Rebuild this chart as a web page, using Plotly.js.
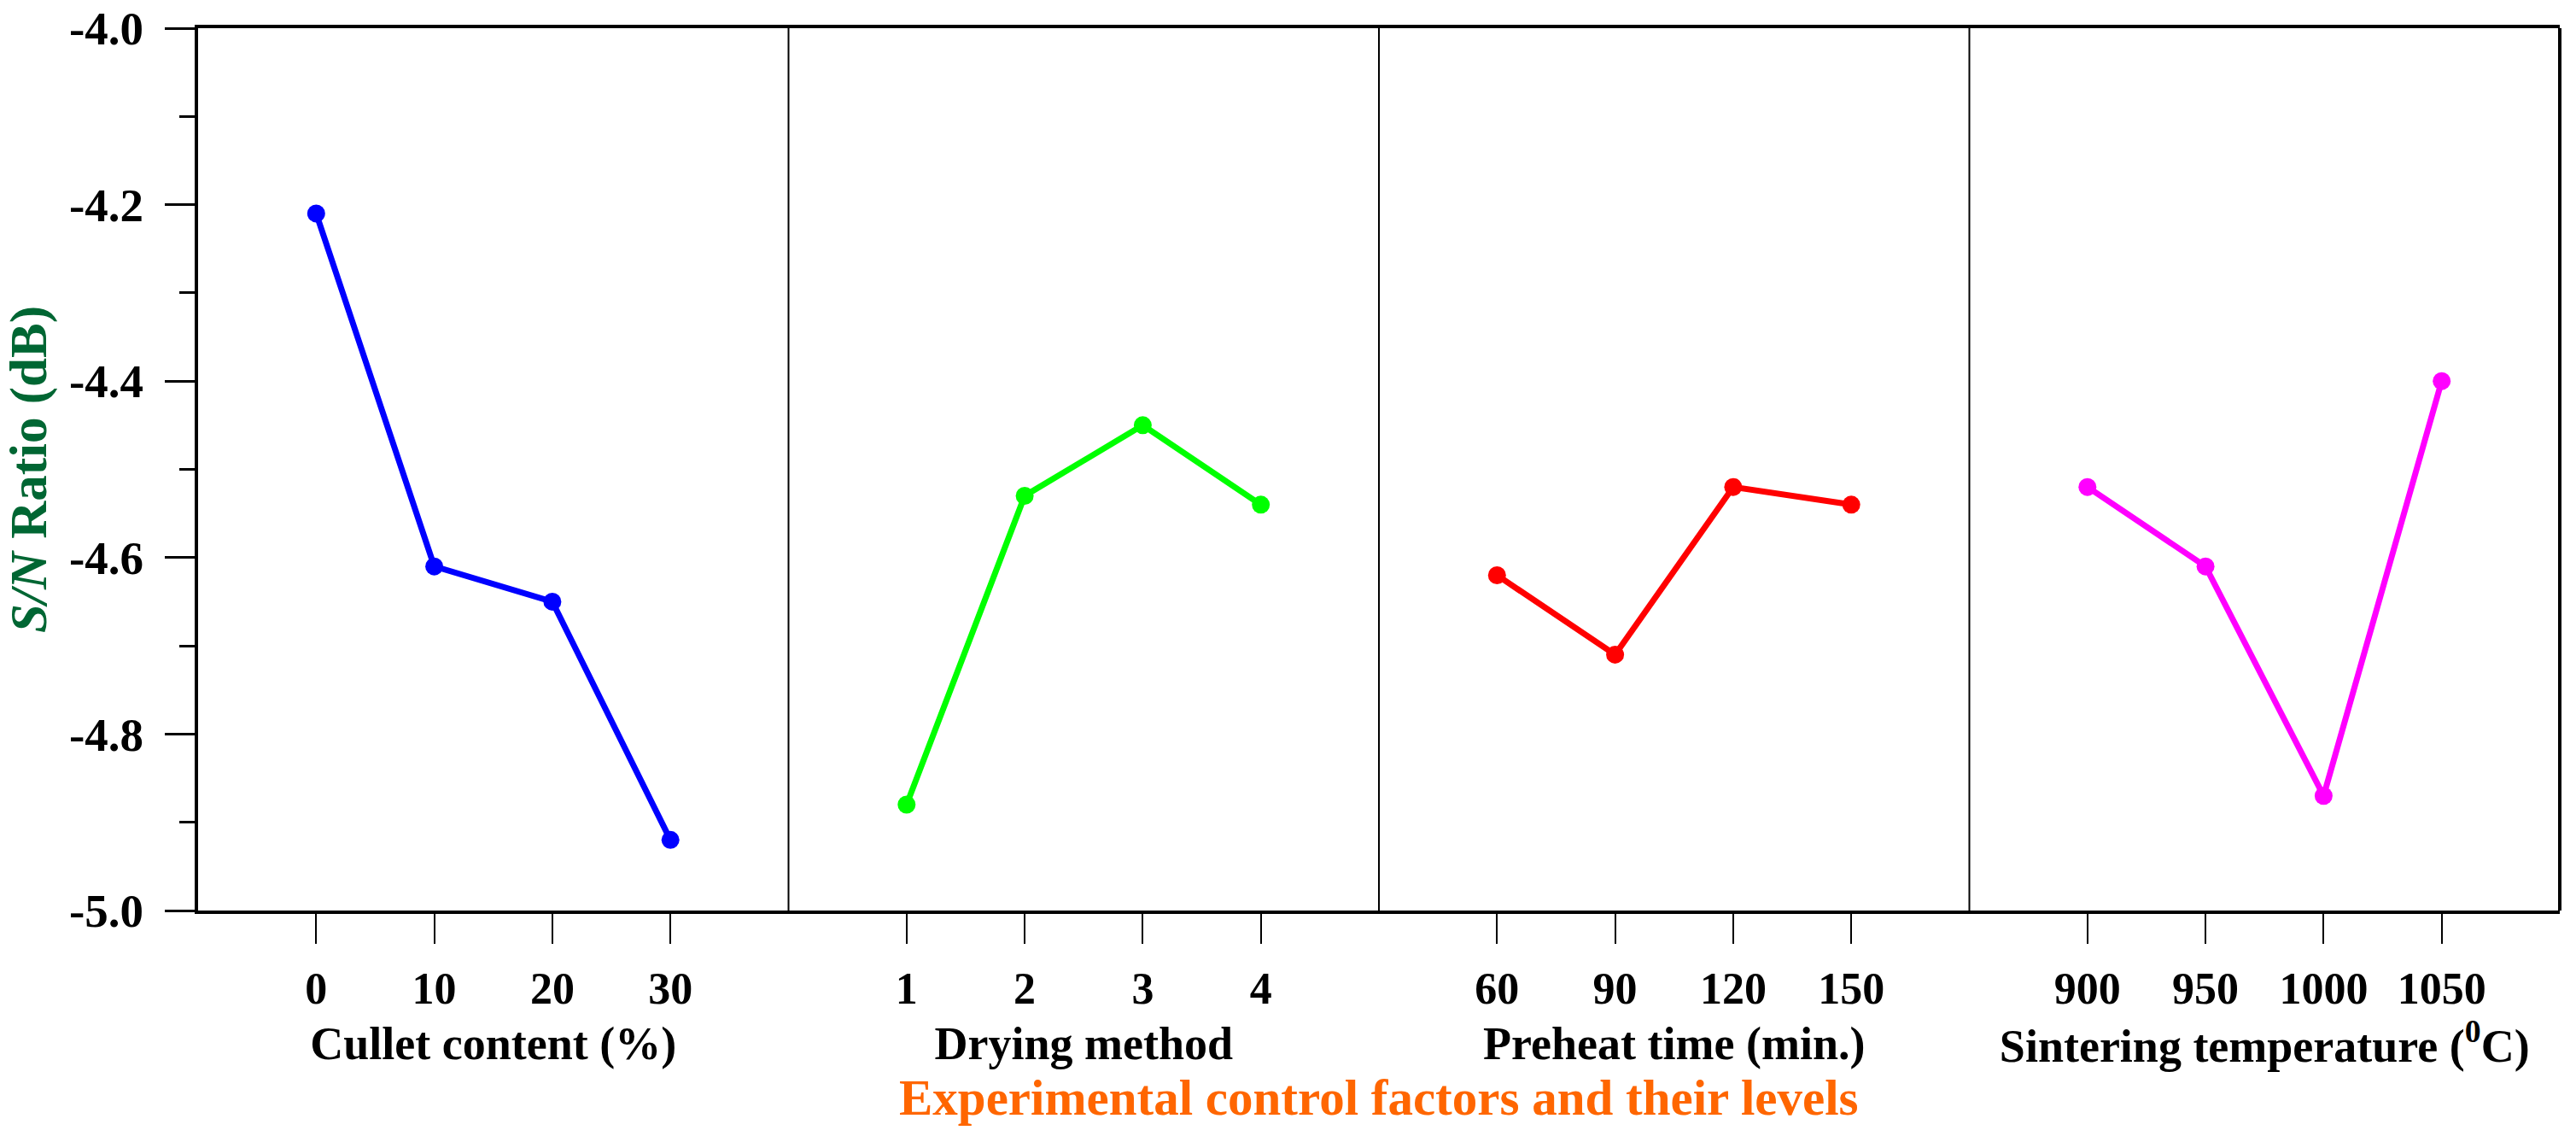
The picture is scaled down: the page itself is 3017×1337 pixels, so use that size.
<!DOCTYPE html>
<html>
<head>
<meta charset="utf-8">
<script src="https://cdn.plot.ly/plotly-3.0.1.min.js"></script>
<style>html,body{margin:0;padding:0;background:#fff;}#chart{width:3017px;height:1337px;}</style>
</head>
<body>
<div id="chart"></div>
<script>
// ---- data ----
const culletLevels = ['0', '10', '20', '30'];
const culletSN = [-4.21, -4.61, -4.65, -4.92];

const dryingLevels = ['1', '2', '3', '4'];
const dryingSN = [-4.88, -4.53, -4.45, -4.54];

const preheatLevels = ['60', '90', '120', '150'];
const preheatSN = [-4.62, -4.71, -4.52, -4.54];

const sinterLevels = ['900', '950', '1000', '1050'];
const sinterSN = [-4.52, -4.61, -4.87, -4.40];

const factorTitles = ['Cullet content (%)', 'Drying method', 'Preheat time (min.)', 'Sintering temperature (<sup>0</sup>C)'];
const seriesColors = ['#0000FF', '#00FF00', '#FF0000', '#FF00FF'];

const yTickVals = [-5.0, -4.8, -4.6, -4.4, -4.2, -4.0];
const yTickText = ['-5.0', '-4.8', '-4.6', '-4.4', '-4.2', '-4.0'];

const yTitle = '<i>S/N</i> Ratio (dB)';
const xSuperTitle = 'Experimental control factors and their levels';

// ---- build ----
const FONT = '"Liberation Serif", "Times New Roman", serif';
const groups = [
  [culletLevels, culletSN],
  [dryingLevels, dryingSN],
  [preheatLevels, preheatSN],
  [sinterLevels, sinterSN]
];

const traces = groups.map((g, i) => ({
  type: 'scatter',
  mode: 'lines+markers',
  x: g[0],
  y: g[1],
  xaxis: i === 0 ? 'x' : 'x' + (i + 1),
  yaxis: 'y',
  line: {color: seriesColors[i], width: 7},
  marker: {color: seriesColors[i], size: 21},
  showlegend: false,
  hoverinfo: 'x+y'
}));

const layout = {
  width: 3017,
  height: 1337,
  paper_bgcolor: '#ffffff',
  plot_bgcolor: '#ffffff',
  margin: {l: 232, r: 19, t: 33, b: 271},
  font: {family: FONT, color: '#000000', size: 50},
  showlegend: false,
  yaxis: {
    range: [-5.0, -4.0],
    tickvals: yTickVals,
    ticktext: yTickText,
    ticks: 'outside',
    ticklen: 35,
    tickwidth: 3,
    tickcolor: '#000',
    minor: {dtick: 0.1, tick0: -5.0, ticks: 'outside', ticklen: 18, tickwidth: 3, tickcolor: '#000', showgrid: false},
    showline: true,
    linewidth: 4,
    linecolor: '#000',
    showgrid: false,
    zeroline: false,
    ticklabelstandoff: 14,
    tickfont: {family: FONT, size: 55, color: '#000', weight: 'bold'},
    title: {text: yTitle, font: {family: FONT, size: 61, color: '#006633', weight: 'bold'}, standoff: 30},
    anchor: 'x'
  },
  shapes: [],
  annotations: [{
    text: xSuperTitle,
    xref: 'paper', yref: 'paper',
    x: 0.5, y: -0.212,
    xanchor: 'center', yanchor: 'middle',
    showarrow: false,
    font: {family: FONT, size: 59, color: '#FF6600', weight: 'bold'}
  }]
};

groups.forEach((g, i) => {
  const key = i === 0 ? 'xaxis' : 'xaxis' + (i + 1);
  layout[key] = {
    domain: [i * 0.25, (i + 1) * 0.25],
    type: 'category',
    categoryorder: 'array',
    categoryarray: g[0],
    range: [-1, 4],
    anchor: 'y',
    ticks: 'outside',
    ticklen: 35,
    tickwidth: 2,
    tickcolor: '#000',
    showline: true,
    linewidth: 4,
    linecolor: '#000',
    mirror: true,
    showgrid: false,
    zeroline: false,
    ticklabelstandoff: 8,
    tickfont: {family: FONT, size: 52, color: '#000', weight: 'bold'},
    title: {text: factorTitles[i], font: {family: FONT, size: 54, color: '#000', weight: 'bold'}, standoff: 18},
    automargin: false
  };
  if (i > 0) {
    layout.shapes.push({type: 'line', xref: 'paper', yref: 'paper', x0: i * 0.25, x1: i * 0.25, y0: 0, y1: 1, line: {color: '#000', width: 2}});
  }
});
layout.shapes.push({type: 'line', xref: 'paper', yref: 'paper', x0: 1, x1: 1, y0: 0, y1: 1, line: {color: '#000', width: 4}});

Plotly.newPlot('chart', traces, layout, {displayModeBar: false, staticPlot: true});
</script>
</body>
</html>
